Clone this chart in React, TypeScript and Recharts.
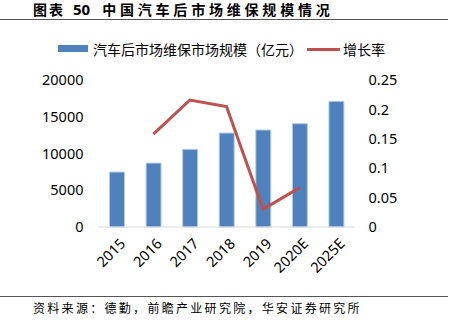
import { ComposedChart, Bar, Line, XAxis, YAxis } from 'recharts';

const years = ['2015', '2016', '2017', '2018', '2019', '2020E', '2025E'];
const marketSize = [7480, 8700, 10570, 12790, 13200, 14060, 17100];
const growthRate = [null, 0.158, 0.216, 0.205, 0.03, 0.067, null];
const leftTicks = [0, 5000, 10000, 15000, 20000];
const rightTicks = [0, 0.05, 0.1, 0.15, 0.2, 0.25];

const data = years.map((year, i) => ({
  year,
  size: marketSize[i],
  growth: growthRate[i],
}));

const axisFont = { fontFamily: '"Noto Sans", sans-serif', fontSize: 14.5, fill: '#000' };
const cjk = '"Noto Sans CJK SC", sans-serif';

const XTick = (props: any) => {
  const { x, y, payload } = props;
  return (
    <g transform={`translate(${x + 6},${y + 6}) rotate(-45)`}>
      <text textAnchor="end" dy="0.35em" style={axisFont} fill="#000">
        {payload.value}
      </text>
    </g>
  );
};

export default function App() {
  return (
    <div style={{ position: 'absolute', left: 0, top: 0, width: 453, height: 330, background: '#fff' }}>
      <div style={{ position: 'absolute', left: 33, top: 2, lineHeight: '14px', fontFamily: cjk, fontWeight: 700, fontSize: 14, whiteSpace: 'nowrap', color: '#000' }}>
        <span style={{ letterSpacing: 2 }}>图表</span>
        <span style={{ marginLeft: 8, fontFamily: '"Noto Sans", sans-serif', fontSize: 15 }}>50</span>
        <span style={{ marginLeft: 12, letterSpacing: 3.8 }}>中国汽车后市场维保规模情况</span>
      </div>
      <div style={{ position: 'absolute', left: 0, top: 19, width: 448, height: 1, background: '#555' }} />

      <div style={{ position: 'absolute', left: 58, top: 45, width: 30, height: 7, background: '#4F81BD' }} />
      <div style={{ position: 'absolute', left: 93, top: 39, fontFamily: cjk, fontSize: 14, whiteSpace: 'nowrap', color: '#000' }}>
        汽车后市场维保市场规模（亿元）
      </div>
      <div style={{ position: 'absolute', left: 307, top: 48, width: 33, height: 3, background: '#C0504D' }} />
      <div style={{ position: 'absolute', left: 343, top: 39, fontFamily: cjk, fontSize: 14, whiteSpace: 'nowrap', color: '#000' }}>
        增长率
      </div>

      <ComposedChart width={453} height={330} data={data} margin={{ top: 80, right: 0, left: 0, bottom: 33 }}>
        <XAxis
          dataKey="year"
          height={70}
          tick={<XTick />}
          tickLine={false}
          axisLine={{ stroke: '#D9D9D9' }}
          interval={0}
        />
        <YAxis
          yAxisId="left"
          width={98.5}
          domain={[0, 20000]}
          ticks={leftTicks}
          tickLine={false}
          axisLine={false}
          tick={axisFont}
          tickMargin={9}
        />
        <YAxis
          yAxisId="right"
          orientation="right"
          width={98.5}
          domain={[0, 0.25]}
          ticks={rightTicks}
          tickLine={false}
          axisLine={false}
          tick={{ ...axisFont, textAnchor: 'start' }}
          tickMargin={8}
        />
        <Bar yAxisId="left" dataKey="size" fill="#4F81BD" stroke="#B9CDE5" strokeWidth={1} barSize={15} isAnimationActive={false} />
        <Line yAxisId="right" dataKey="growth" stroke="#C0504D" strokeWidth={3} dot={false} type="linear" isAnimationActive={false} />
      </ComposedChart>

      <div style={{ position: 'absolute', left: 0, top: 296, width: 448, height: 1, background: '#555' }} />
      <div style={{ position: 'absolute', left: 33, top: 299, fontFamily: cjk, fontSize: 12, letterSpacing: 2.3, whiteSpace: 'nowrap', color: '#000' }}>
        资料来源：德勤，前瞻产业研究院，华安证券研究所
      </div>
    </div>
  );
}
